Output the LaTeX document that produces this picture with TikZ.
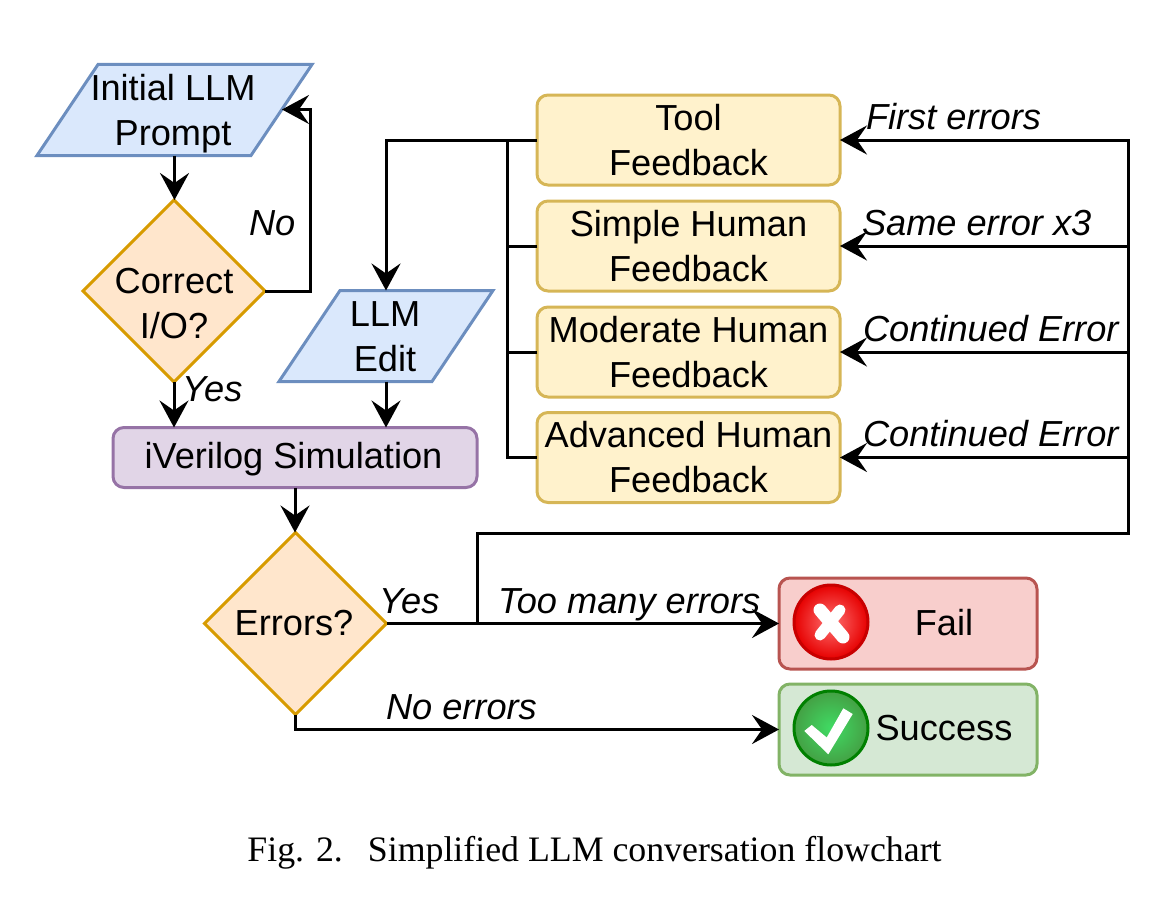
\documentclass[tikz,border=0pt]{standalone}
\usepackage{fontspec}
\setmainfont{Liberation Sans}
\newfontfamily\captionfont{Liberation Serif}
\usetikzlibrary{arrows.meta,backgrounds,shapes.geometric,calc}
\definecolor{iofill}{HTML}{DAE8FC}\definecolor{ioline}{HTML}{6C8EBF}
\definecolor{decfill}{HTML}{FFE6CC}\definecolor{decline}{HTML}{D79B00}
\definecolor{simfill}{HTML}{E1D5E7}\definecolor{simline}{HTML}{9673A6}
\definecolor{fbfill}{HTML}{FFF2CC}\definecolor{fbline}{HTML}{D6B656}
\definecolor{failfill}{HTML}{F8CECC}\definecolor{failline}{HTML}{B85450}
\definecolor{okfill}{HTML}{D5E8D4}\definecolor{okline}{HTML}{82B366}
\definecolor{redcore}{HTML}{FF7070}\definecolor{redrim}{HTML}{E60000}\definecolor{rededge}{HTML}{C80000}
\definecolor{greencore}{HTML}{40DC64}\definecolor{greenrim}{HTML}{44A044}\definecolor{greenedge}{HTML}{008000}
\tikzset{
  x=1pt, y=-1pt,
  every node/.style={font=\fontsize{36.2}{45}\selectfont, inner sep=0pt, outer sep=0pt, align=center},
  boxed/.style={rectangle, rounded corners=11pt, line width=3pt},
  fbbox/.style={boxed, draw=fbline, fill=fbfill, minimum width=303pt, minimum height=90pt},
  endbox/.style={boxed, minimum width=258pt, minimum height=91pt},
  decision/.style={diamond, aspect=1, draw=decline, fill=decfill, line width=3pt, minimum width=182pt, minimum height=182pt},
  iobox/.style={rectangle, minimum height=91pt},
  ioshape/.style={draw=ioline, fill=iofill, line width=3pt, line join=miter},
  link/.style={line width=3pt, draw=black, line join=miter},
  flow/.style={link, -{Stealth[length=27pt,width=29pt,inset=10pt]}},
  note/.style={font=\fontsize{36.2}{45}\selectfont\itshape, anchor=base west},
}
\begin{document}
\begin{tikzpicture}
\useasboundingbox (0,0) rectangle (1173,899);

% input and output blocks
\node[iobox, minimum width=275pt] (prompt) at (174.5,110) {};
\node[iobox, minimum width=214pt] (edit) at (386,336) {};
\begin{scope}[on background layer]
  \draw[ioshape] (prompt.south west) -- ($(prompt.north west)+(61,0)$)
    -- (prompt.north east) -- ($(prompt.south east)+(-61,0)$) -- cycle;
  \draw[ioshape] (edit.south west) -- ($(edit.north west)+(61,0)$)
    -- (edit.north east) -- ($(edit.south east)+(-61,0)$) -- cycle;
\end{scope}
\node (prompttext) at (173,114) {Initial LLM\\Prompt};
\node (edittext) at (385,337) {LLM\\Edit};

% decisions
\node[decision] (correct) at (174,291) {};
\node (correcttext) at (174,304) {Correct\\I/O?};
\node[decision] (errors) at (295.5,623.5) {};
\node (errorstext) at (294,623) {Errors?};

% simulation
\node[boxed, draw=simline, fill=simfill, minimum width=364pt, minimum height=60pt] (sim) at (295,457.5) {};
\node (simtext) at (293.5,459.5) {iVerilog Simulation};

% feedback levels
\node[fbbox] (tool) at (688.5,140) {Tool\\Feedback};
\node[fbbox] (simple) at (688.5,246) {Simple Human\\Feedback};
\node[fbbox] (moderate) at (688.5,352) {Moderate Human\\Feedback};
\node[fbbox] (advanced) at (688.5,457.5) {Advanced Human\\Feedback};

% outcomes
\node[endbox, draw=failline, fill=failfill] (fail) at (908,623.5) {};
\node (failtext) at (944,623) {Fail};
\node[endbox, draw=okline, fill=okfill] (success) at (908,729.5) {};
\node (successtext) at (944,728) {Success};

% outcome badges
\shadedraw[inner color=redcore, outer color=redrim, draw=rededge, line width=3pt] (831,622) circle[radius=37];
\draw[white, line width=13pt, line cap=round] (820,610) -- (843,637);
\draw[white, line width=11pt, line cap=round] (840,610) -- (820,635);
\shadedraw[inner color=greencore, outer color=greenrim, draw=greenedge, line width=3pt] (831,728) circle[radius=37];
\fill[white] (804.3,731) -- (811.7,725) -- (826.7,737.5) -- (843.3,708.3) -- (852.7,714) -- (828.3,754.3) -- cycle;

% junctions
\coordinate (promptin) at (282,109.5);
\coordinate (noturn) at (310,291);
\coordinate (gather) at (507,140);
\coordinate (retry) at (477,623.5);
\coordinate (rail) at (1128,140);

% main flow
\draw[flow] (prompt.south) -- (prompt.south |- correct.north);
\draw[flow] (correct.east) -- (noturn) -- (noturn |- promptin) -- (promptin);
\draw[flow] (correct.south) -- (correct.south |- sim.north);
\draw[flow] (edit.south) -- (edit.south |- sim.north);
\draw[flow] (sim.south) -- (sim.south |- errors.north);
\draw[flow] (tool.west) -- (tool.west -| edit.north) -- (edit.north);
\draw[link] (simple.west) -- (simple.west -| gather) -- (gather);
\draw[link] (moderate.west) -- (moderate.west -| gather) -- (gather);
\draw[link] (advanced.west) -- (advanced.west -| gather) -- (gather);
\draw[flow] (errors.east) -- (fail.west);
\draw[flow] (errors.south) -- (errors.south |- success.west) -- (success.west);

% retry rail feeding the feedback levels
\draw[flow] (retry) -- (477,533) -- (1128,533) -- (rail) -- (tool.east);
\draw[flow] (simple.east -| rail) -- (simple.east);
\draw[flow] (moderate.east -| rail) -- (moderate.east);
\draw[flow] (advanced.east -| rail) -- (advanced.east);

% connector labels
\node[note] (lno) at (249,235) {No};
\node[note] (lyes) at (182,401) {Yes};
\node[note] (lfirst) at (866,129) {First errors};
\node[note] (lsame) at (862,235) {Same error x3};
\node[note] (lcont) at (863,341) {Continued Error};
\node[note] (lcontb) at (863,446) {Continued Error};
\node[note] (lyesb) at (379,613) {Yes};
\node[note] (lmany) at (498,613) {Too many errors};
\node[note] (lnone) at (386,719) {No errors};

% figure caption
\node[font=\captionfont\fontsize{35.8}{40}\selectfont, anchor=base] (caption) at (594.5,861) {Fig. 2.\hspace{25pt}Simplified LLM conversation flowchart};
\end{tikzpicture}
\end{document}
